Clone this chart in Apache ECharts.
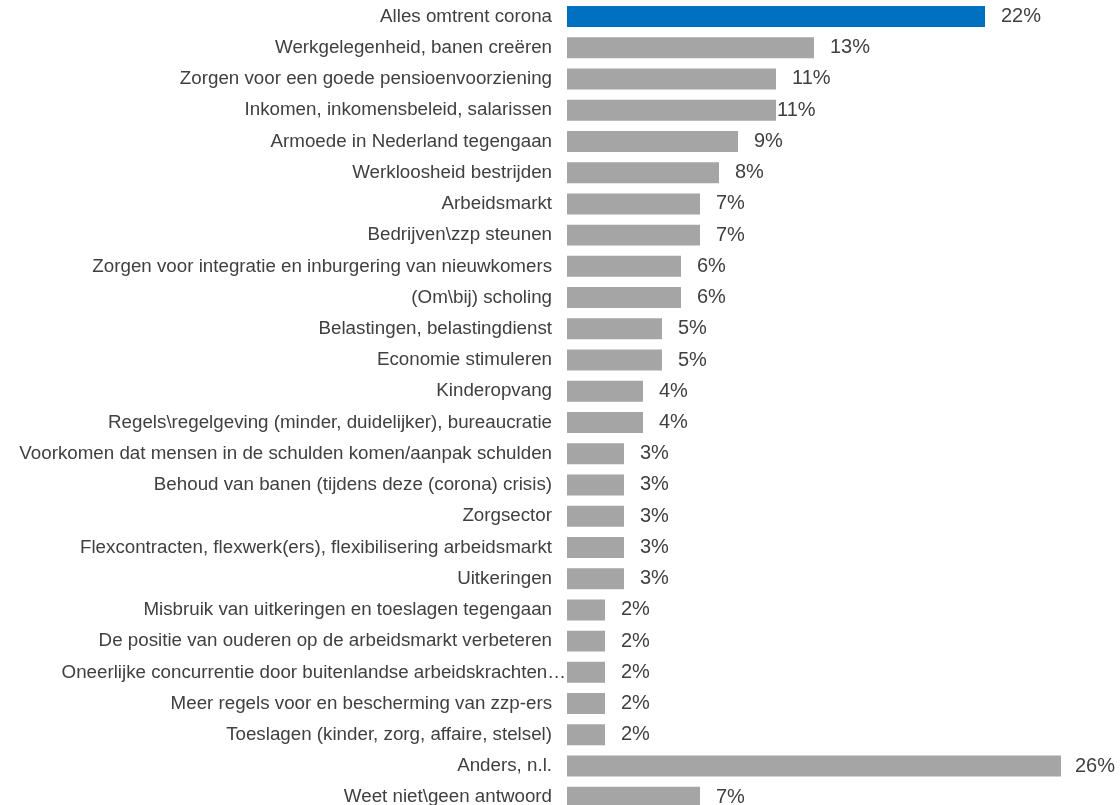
<!DOCTYPE html>
<html>
<head>
<meta charset="utf-8">
<script src="https://cdn.jsdelivr.net/npm/echarts@6/dist/echarts.min.js"></script>
<style>
  html, body { margin: 0; padding: 0; background: #ffffff; }
  #chart { width: 1120px; height: 805px; }
</style>
</head>
<body>
<div id="chart"></div>
<script>
var categories = [
  'Alles omtrent corona',
  'Werkgelegenheid, banen creëren',
  'Zorgen voor een goede pensioenvoorziening',
  'Inkomen, inkomensbeleid, salarissen',
  'Armoede in Nederland tegengaan',
  'Werkloosheid bestrijden',
  'Arbeidsmarkt',
  'Bedrijven\\zzp steunen',
  'Zorgen voor integratie en inburgering van nieuwkomers',
  '(Om\\bij) scholing',
  'Belastingen, belastingdienst',
  'Economie stimuleren',
  'Kinderopvang',
  'Regels\\regelgeving (minder, duidelijker), bureaucratie',
  'Voorkomen dat mensen in de schulden komen/aanpak schulden',
  'Behoud van banen (tijdens deze (corona) crisis)',
  'Zorgsector',
  'Flexcontracten, flexwerk(ers), flexibilisering arbeidsmarkt',
  'Uitkeringen',
  'Misbruik van uitkeringen en toeslagen tegengaan',
  'De positie van ouderen op de arbeidsmarkt verbeteren',
  'Oneerlijke concurrentie door buitenlandse arbeidskrachten…',
  'Meer regels voor en bescherming van zzp-ers',
  'Toeslagen (kinder, zorg, affaire, stelsel)',
  'Anders, n.l.',
  'Weet niet\\geen antwoord'
];
var values = [22, 13, 11, 11, 9, 8, 7, 7, 6, 6, 5, 5, 4, 4, 3, 3, 3, 3, 3, 2, 2, 2, 2, 2, 26, 7];
var highlightIndex = 0;

// label placement tweaks (styling, not data)
var labelDistance = {3: 1, 24: 14};
var overflowLabelIndex = 21;

var FONT = '"Liberation Sans", Arial, sans-serif';
var seriesData = values.map(function (v, i) {
  var item = { value: v };
  if (i === highlightIndex) item.itemStyle = { color: '#0070C0' };
  if (labelDistance[i] !== undefined) item.label = { distance: labelDistance[i] };
  return item;
});
var axisData = categories.map(function (c, i) {
  if (i === overflowLabelIndex) {
    return { value: c, textStyle: { padding: [0, -14, 0, 0] } };
  }
  return c;
});

var chart = echarts.init(document.getElementById('chart'), null, { renderer: 'canvas' });
chart.setOption({
  animation: false,
  backgroundColor: '#ffffff',
  grid: {
    left: 567,
    top: 0.9,
    width: 532,
    height: 812,
    containLabel: false,
    outerBoundsMode: 'none'
  },
  xAxis: {
    type: 'value',
    min: 0,
    max: 28,
    show: false,
    splitLine: { show: false }
  },
  yAxis: {
    type: 'category',
    inverse: true,
    data: axisData,
    axisLine: { show: false },
    axisTick: { show: false },
    splitLine: { show: false },
    axisLabel: {
      margin: 15,
      fontSize: 18.75,
      fontFamily: FONT,
      color: '#404040',
      interval: 0
    }
  },
  series: [{
    type: 'bar',
    data: seriesData,
    barCategoryGap: '32.8%',
    itemStyle: { color: '#A5A5A5' },
    label: {
      show: true,
      position: 'right',
      distance: 16,
      formatter: '{c}%',
      fontSize: 20,
      fontFamily: FONT,
      color: '#404040'
    }
  }]
});
</script>
</body>
</html>
